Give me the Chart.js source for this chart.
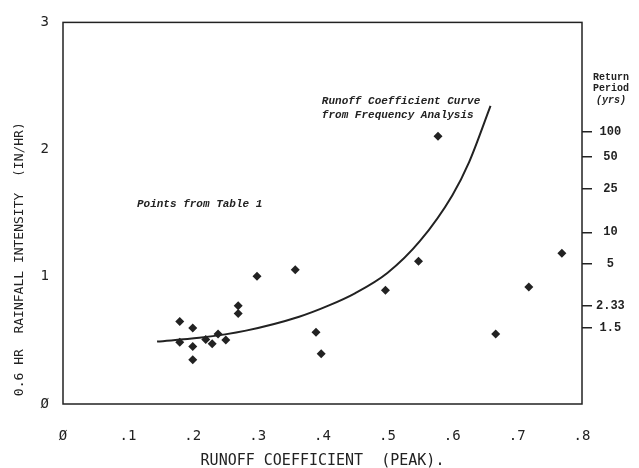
<!DOCTYPE html>
<html>
<head>
<meta charset="utf-8">
<script src="https://cdn.jsdelivr.net/npm/chart.js@4"></script>
<style>
  html, body { margin: 0; padding: 0; background: #fff; }
  #wrap { width: 639px; height: 468px; }
</style>
</head>
<body>
<div id="wrap"><canvas id="c" width="639" height="468"></canvas></div>
<script>
// points from Table 1
var runoffC   = [0.180, 0.200, 0.180, 0.200, 0.200, 0.220, 0.230, 0.239, 0.251, 0.270, 0.270,
                 0.299, 0.358, 0.390, 0.398, 0.497, 0.548, 0.578, 0.667, 0.718, 0.769];
var intensity = [0.649, 0.598, 0.486, 0.452, 0.348, 0.507, 0.473, 0.551, 0.504, 0.772, 0.712,
                 1.005, 1.056, 0.564, 0.395, 0.894, 1.122, 2.104, 0.551, 0.920, 1.185];

// runoff coefficient curve from frequency analysis
var curveC = [0.145, 0.210, 0.282, 0.364, 0.410, 0.450, 0.500, 0.550, 0.600, 0.626, 0.659];
var curveI = [0.491, 0.520, 0.577, 0.686, 0.775, 0.870, 1.030, 1.280, 1.640, 1.902, 2.344];

// right axis: return period (yrs) vs intensity
var rpLabels    = ['100', '50', '25', '10', '5', '2.33', '1.5'];
var rpIntensity = [2.14, 1.94, 1.69, 1.35, 1.10, 0.77, 0.60];

var xTicks = ['Ø', '.1', '.2', '.3', '.4', '.5', '.6', '.7', '.8'];
var yTicks = ['Ø', '1', '2', '3'];

var ink = '#222';
var mono = '"DejaVu Sans Mono", monospace';
var typewriter = '"Liberation Mono", monospace';

var pts = runoffC.map(function (c, i) { return { x: c, y: intensity[i] }; });
var curve = curveC.map(function (c, i) { return { x: c, y: curveI[i] }; });

// box around plot + typed notes
var notes = {
    id: 'notes',
    afterDraw: function (chart) {
        var ctx = chart.ctx, a = chart.chartArea;
        var sx = chart.scales.x, sy = chart.scales.y;
        ctx.save();
        ctx.strokeStyle = ink;
        ctx.lineWidth = 1.5;
        ctx.strokeRect(a.left, a.top, a.right - a.left, a.bottom - a.top);

        ctx.fillStyle = ink;
        ctx.textBaseline = 'middle';
        ctx.textAlign = 'left';
        ctx.font = 'italic bold 11px ' + typewriter;
        ctx.fillText('Runoff Coefficient Curve', sx.getPixelForValue(0.399), sy.getPixelForValue(2.38));
        ctx.fillText('from Frequency Analysis', sx.getPixelForValue(0.399), sy.getPixelForValue(2.27));
        ctx.fillText('Points from Table 1', sx.getPixelForValue(0.114), sy.getPixelForValue(1.574));

        ctx.textAlign = 'center';
        ctx.font = 'bold 10px ' + typewriter;
        var rx = a.right + 29;
        ctx.fillText('Return', rx, 77);
        ctx.fillText('Period', rx, 88);
        ctx.font = 'italic bold 10px ' + typewriter;
        ctx.fillText('(yrs)', rx, 100);
        ctx.restore();
    }
};

new Chart(document.getElementById('c'), {
    type: 'scatter',
    data: {
        datasets: [{
            label: 'Points from Table 1',
            data: pts,
            pointStyle: 'rectRot',
            pointRadius: 4.5,
            backgroundColor: ink,
            borderColor: ink,
            borderWidth: 0
        }, {
            label: 'Runoff Coefficient Curve',
            data: curve,
            showLine: true,
            pointRadius: 0,
            borderColor: ink,
            borderWidth: 2,
            cubicInterpolationMode: 'monotone',
            fill: false
        }]
    },
    options: {
        responsive: false,
        animation: false,
        layout: { padding: { top: 19, left: 0, right: 0, bottom: 0 } },
        plugins: {
            legend: { display: false },
            tooltip: { enabled: false }
        },
        scales: {
            x: {
                type: 'linear',
                min: 0, max: 0.8,
                border: { display: false },
                grid: { display: true, drawOnChartArea: false, drawTicks: false },
                ticks: {
                    stepSize: 0.1,
                    padding: 24,
                    color: ink,
                    font: { family: mono, size: 14 },
                    callback: function (v) { return xTicks[Math.round(v * 10)]; }
                },
                title: {
                    display: true,
                    text: 'RUNOFF COEFFICIENT  (PEAK).',
                    color: ink,
                    font: { family: mono, size: 15 },
                    padding: { top: 0, bottom: -2 }
                },
                afterFit: function (s) { s.height = 64; }
            },
            y: {
                min: 0, max: 3,
                border: { display: false },
                grid: { display: true, drawOnChartArea: false, drawTicks: false },
                ticks: {
                    stepSize: 1,
                    padding: 14,
                    color: ink,
                    font: { family: mono, size: 14 },
                    callback: function (v) { return yTicks[Math.round(v)]; }
                },
                title: {
                    display: true,
                    align: 'start',
                    text: ' 0.6 HR  RAINFALL INTENSITY  (IN/HR)',
                    color: ink,
                    font: { family: mono, size: 13 },
                    padding: { top: 12, bottom: 0 }
                },
                afterFit: function (s) { s.width = 63; }
            },
            y2: {
                position: 'right',
                min: 0, max: 3,
                border: { display: false },
                grid: { display: true, drawOnChartArea: false, tickLength: 10, color: ink, lineWidth: 1.5 },
                afterBuildTicks: function (s) {
                    s.ticks = rpIntensity.map(function (v) { return { value: v }; });
                },
                ticks: {
                    autoSkip: false,
                    padding: 4,
                    crossAlign: 'center',
                    color: ink,
                    font: { family: typewriter, size: 12, weight: 'bold' },
                    callback: function (v, i) { return rpLabels[i]; }
                },
                afterFit: function (s) { s.width = 57; }
            }
        }
    },
    plugins: [notes]
});
</script>
</body>
</html>
